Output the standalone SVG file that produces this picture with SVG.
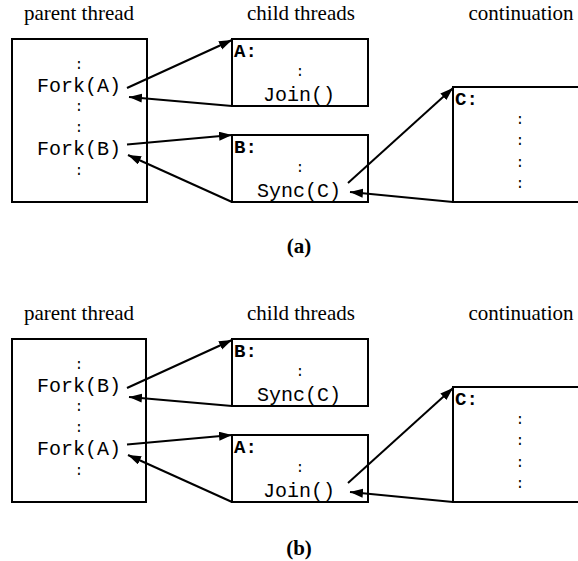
<svg xmlns="http://www.w3.org/2000/svg" width="578" height="561" viewBox="0 0 578 561">
<style>
.box{fill:none;stroke:#000;stroke-width:2}
.hd{font-family:"Liberation Serif","Times New Roman",serif;font-size:21px;text-anchor:middle;fill:#000}
.cap{font-family:"Liberation Serif","Times New Roman",serif;font-size:21px;font-weight:bold;text-anchor:middle;fill:#000}
.mono{font-family:"Liberation Mono","Courier New",monospace;font-size:20px;text-anchor:middle;fill:#000}
.dot{font-family:"Liberation Mono","Courier New",monospace;font-size:14px;text-anchor:middle;fill:#000}
.lbl{font-family:"Liberation Mono","Courier New",monospace;font-size:19px;font-weight:bold;fill:#000}
.arr{stroke:#000;stroke-width:2;fill:none;marker-end:url(#ah)}
</style>
<defs>
<marker id="ah" markerUnits="userSpaceOnUse" markerWidth="14" markerHeight="10" refX="13" refY="4.5" orient="auto">
<path d="M0,0 L13,4.5 L0,9 z" fill="#000"/>
</marker>
</defs>
<rect width="578" height="561" fill="#fff"/>

<!-- panel (a) -->
<g id="headers-a">
<text class="hd" x="79" y="20">parent thread</text>
<text class="hd" x="301" y="20">child threads</text>
<text class="hd" x="521" y="20">continuation</text>
</g>
<g id="parent-a">
<rect class="box" x="12" y="39" width="135" height="163"/>
<text class="dot" x="79" y="69">:</text>
<text class="mono" x="79" y="92">Fork(A)</text>
<text class="dot" x="79" y="111">:</text>
<text class="dot" x="79" y="132">:</text>
<text class="mono" x="79" y="155">Fork(B)</text>
<text class="dot" x="79" y="175">:</text>
</g>
<g id="childA-a">
<rect class="box" x="232" y="39" width="136" height="67"/>
<text class="lbl" x="234" y="57">A:</text>
<text class="dot" x="300" y="76">:</text>
<text class="mono" x="299" y="101">Join()</text>
</g>
<g id="childB-a">
<rect class="box" x="232" y="135" width="136" height="67"/>
<text class="lbl" x="234" y="153">B:</text>
<text class="dot" x="300" y="172">:</text>
<text class="mono" x="299" y="197">Sync(C)</text>
</g>
<g id="cont-a">
<rect class="box" x="453" y="87" width="140" height="115"/>
<text class="lbl" x="455" y="105">C:</text>
<text class="dot" x="520" y="124">:</text>
<text class="dot" x="520" y="145">:</text>
<text class="dot" x="520" y="167">:</text>
<text class="dot" x="520" y="188">:</text>
</g>
<g id="connectors-a">
<line class="arr" x1="127" y1="88" x2="232" y2="40"/>
<line class="arr" x1="232" y1="106" x2="129" y2="97"/>
<line class="arr" x1="127" y1="144.5" x2="232" y2="135"/>
<line class="arr" x1="232" y1="202" x2="128" y2="155"/>
<line class="arr" x1="348" y1="183" x2="453" y2="88"/>
<line class="arr" x1="453" y1="202" x2="350" y2="192"/>
</g>
<text class="cap" x="299" y="253">(a)</text>

<!-- panel (b) -->
<g id="headers-b">
<text class="hd" x="79" y="320">parent thread</text>
<text class="hd" x="301" y="320">child threads</text>
<text class="hd" x="521" y="320">continuation</text>
</g>
<g id="parent-b">
<rect class="box" x="12" y="339" width="134" height="163"/>
<text class="dot" x="79" y="369">:</text>
<text class="mono" x="79" y="392">Fork(B)</text>
<text class="dot" x="79" y="411">:</text>
<text class="dot" x="79" y="432">:</text>
<text class="mono" x="79" y="455">Fork(A)</text>
<text class="dot" x="79" y="475">:</text>
</g>
<g id="childB-b">
<rect class="box" x="232" y="339" width="136" height="67"/>
<text class="lbl" x="234" y="357">B:</text>
<text class="dot" x="300" y="376">:</text>
<text class="mono" x="299" y="401">Sync(C)</text>
</g>
<g id="childA-b">
<rect class="box" x="232" y="435" width="136" height="67"/>
<text class="lbl" x="234" y="453">A:</text>
<text class="dot" x="300" y="472">:</text>
<text class="mono" x="299" y="497">Join()</text>
</g>
<g id="cont-b">
<rect class="box" x="453" y="387" width="140" height="115"/>
<text class="lbl" x="455" y="405">C:</text>
<text class="dot" x="520" y="424">:</text>
<text class="dot" x="520" y="445">:</text>
<text class="dot" x="520" y="467">:</text>
<text class="dot" x="520" y="488">:</text>
</g>
<g id="connectors-b">
<line class="arr" x1="127" y1="388" x2="232" y2="340"/>
<line class="arr" x1="232" y1="406" x2="129" y2="397"/>
<line class="arr" x1="127" y1="444.5" x2="232" y2="435"/>
<line class="arr" x1="232" y1="502" x2="128" y2="455"/>
<line class="arr" x1="348" y1="483" x2="453" y2="388"/>
<line class="arr" x1="453" y1="502" x2="350" y2="492"/>
</g>
<text class="cap" x="299" y="555">(b)</text>
</svg>
